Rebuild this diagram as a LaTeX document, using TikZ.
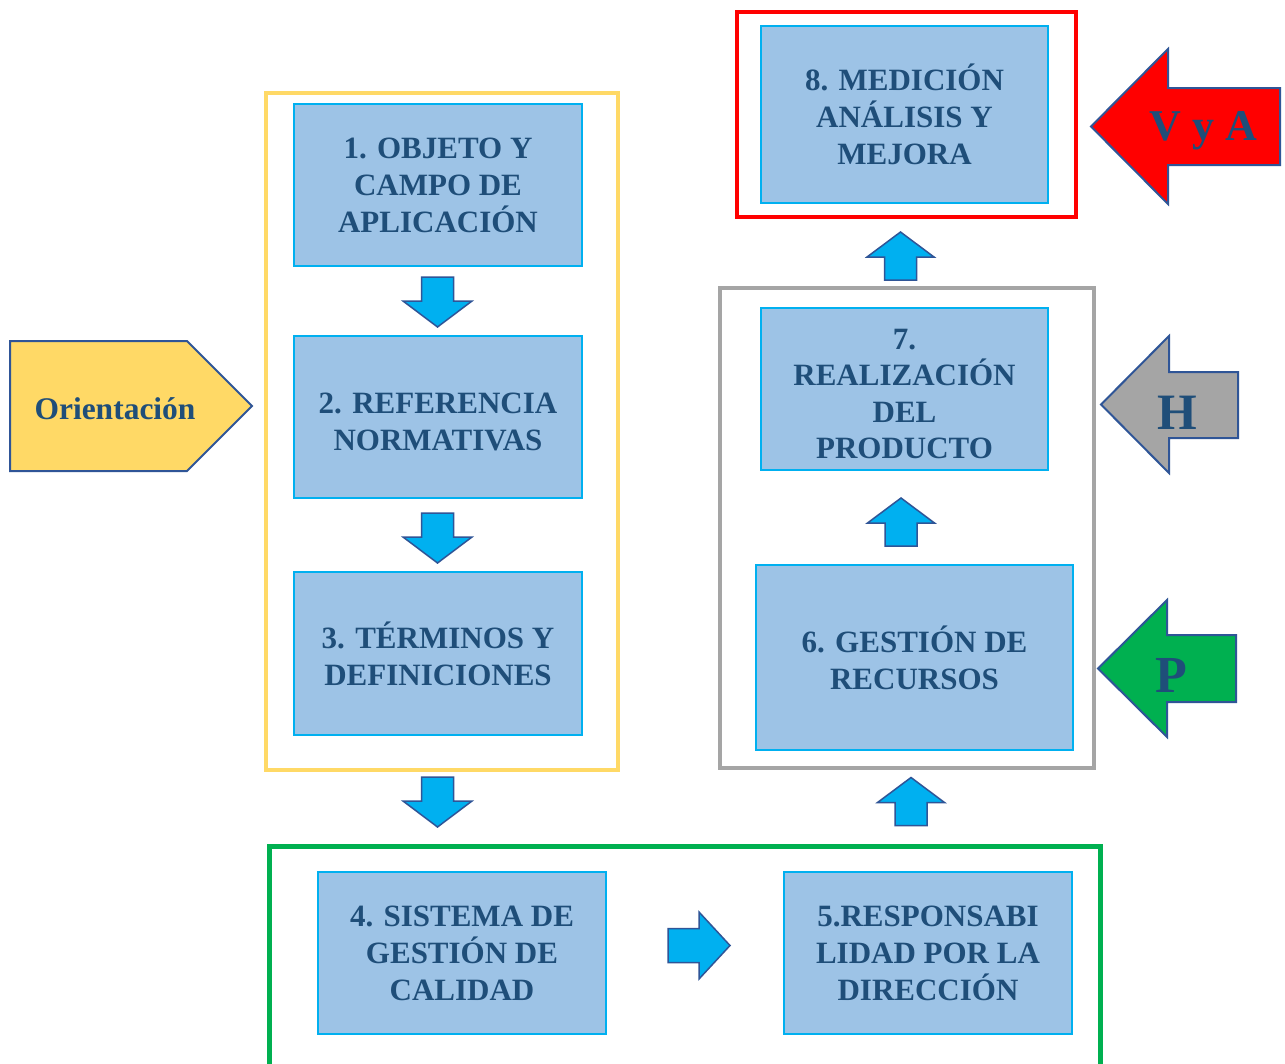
\documentclass[tikz,border=0pt]{standalone}
\usepackage{fontspec}
\setmainfont{Liberation Serif}
\usetikzlibrary{calc}
\definecolor{boxfill}{HTML}{9DC3E6}
\definecolor{boxline}{HTML}{00B0F0}
\definecolor{txt}{HTML}{1F4E79}
\definecolor{navy}{HTML}{2F5597}
\definecolor{gold}{HTML}{FFD966}
\definecolor{grayf}{HTML}{A5A5A5}
\definecolor{greenf}{HTML}{00B050}
\definecolor{redf}{HTML}{FF0000}
\begin{document}
\begin{tikzpicture}[x=1pt,y=-1pt,
  box/.style={draw=boxline, fill=boxfill, line width=2pt, text=txt, align=center,
    font=\fontsize{31}{37}\selectfont\bfseries, inner sep=0pt},
  boxtext/.style={text=txt, align=center, font=\fontsize{31}{37}\selectfont\bfseries, inner sep=0pt},
  frame/.style={line width=4pt},
  barrow/.style={fill=boxline, draw=navy, line width=1.5pt, line join=miter},
  bigarrow/.style={draw=navy, line width=2pt, line join=miter},
  lbl/.style={text=txt, anchor=base, inner sep=0pt},
  downarr/.pic={\path[barrow] (-16,-25) -- (16,-25) -- (16,-1) -- (34.5,-1) -- (0,25) -- (-34.5,-1) -- (-16,-1) -- cycle;},
  uparr/.pic={\path[barrow] (-16,24) -- (16,24) -- (16,1) -- (33.5,1) -- (0,-24) -- (-33.5,1) -- (-16,1) -- cycle;},
  rightarr/.pic={\path[barrow] (-31,-17) -- (0,-17) -- (0,-33.5) -- (31,0) -- (0,33.5) -- (0,17) -- (-31,17) -- cycle;}
]
\useasboundingbox[fill=white] (0,0) rectangle (1285,1063);

% frames
\draw[frame, draw=gold] (266,93) rectangle (618,770);
\draw[frame, draw=grayf] (720,288) rectangle (1094,768);
\draw[frame, draw=redf] (737,12) rectangle (1076,217);
\draw[line width=5pt, draw=greenf] (269,1070) -- (269,846) -- (1100,846) -- (1100,1070);

% boxes
\node[box, minimum width=288pt, minimum height=162pt] (b1) at (438,185) {1. OBJETO Y\\CAMPO DE\\APLICACIÓN};
\node[box, minimum width=288pt, minimum height=162pt] (b2) at (438,417) {};
\node[boxtext] (t2) at ($(b2.center)+(0,5)$) {2. REFERENCIA\\NORMATIVAS};
\node[box, minimum width=288pt, minimum height=163pt] (b3) at (438,653.5) {3. TÉRMINOS Y\\DEFINICIONES};
\node[box, minimum width=288pt, minimum height=162pt] (b4) at (462,953) {4. SISTEMA DE\\GESTIÓN DE\\CALIDAD};
\node[box, minimum width=288pt, minimum height=162pt] (b5) at (928,953) {5.RESPONSABI\\LIDAD POR LA\\DIRECCIÓN};
\node[box, minimum width=317pt, minimum height=185pt] (b6) at (914.5,657.5) {6. GESTIÓN DE\\RECURSOS};
\node[box, minimum width=287pt, minimum height=162pt] (b7) at (904.5,389) {};
\node[boxtext, font=\fontsize{31}{36.3}\selectfont\bfseries] (t7) at ($(b7.center)+(0,5)$) {7.\\REALIZACIÓN\\DEL\\PRODUCTO};
\node[box, minimum width=287pt, minimum height=177pt] (b8) at (904.5,114.5) {8. MEDICIÓN\\ANÁLISIS Y\\MEJORA};

% block connectors
\coordinate (a12) at (437.5,302);
\coordinate (a23) at (437.5,538);
\coordinate (a34) at (437.5,802);
\coordinate (a45) at (699,945.5);
\coordinate (a56) at (911,801.5);
\coordinate (a67) at (901,522);
\coordinate (a78) at (900.5,256);
\pic at (a12) {downarr};
\pic at (a23) {downarr};
\pic at (a34) {downarr};
\pic at (a45) {rightarr};
\pic at (a56) {uparr};
\pic at (a67) {uparr};
\pic at (a78) {uparr};

% orientation pentagon
\path[bigarrow, fill=gold] (10,341) -- (187,341) -- (252,406) -- (187,471) -- (10,471) -- cycle;
\node[lbl, font=\fontsize{31.5}{37}\selectfont\bfseries] (ori) at (115,419) {Orientación};

% big side arrows
\path[bigarrow, fill=redf] (1091,126.5) -- (1168,49) -- (1168,88) -- (1280,88) -- (1280,165) -- (1168,165) -- (1168,204) -- cycle;
\node[lbl, font=\fontsize{44}{50}\selectfont\bfseries] (va) at (1203,140) {V y A};

\path[bigarrow, fill=grayf] (1101,404.5) -- (1169,336) -- (1169,372) -- (1238,372) -- (1238,438) -- (1169,438) -- (1169,473) -- cycle;
\node[lbl, font=\fontsize{51}{56}\selectfont\bfseries] (h) at (1177,429) {H};

\path[bigarrow, fill=greenf] (1098,668.5) -- (1167,600) -- (1167,635) -- (1236,635) -- (1236,702) -- (1167,702) -- (1167,737) -- cycle;
\node[lbl, font=\fontsize{52}{58}\selectfont\bfseries] (p) at (1171,692) {P};
\end{tikzpicture}
\end{document}
